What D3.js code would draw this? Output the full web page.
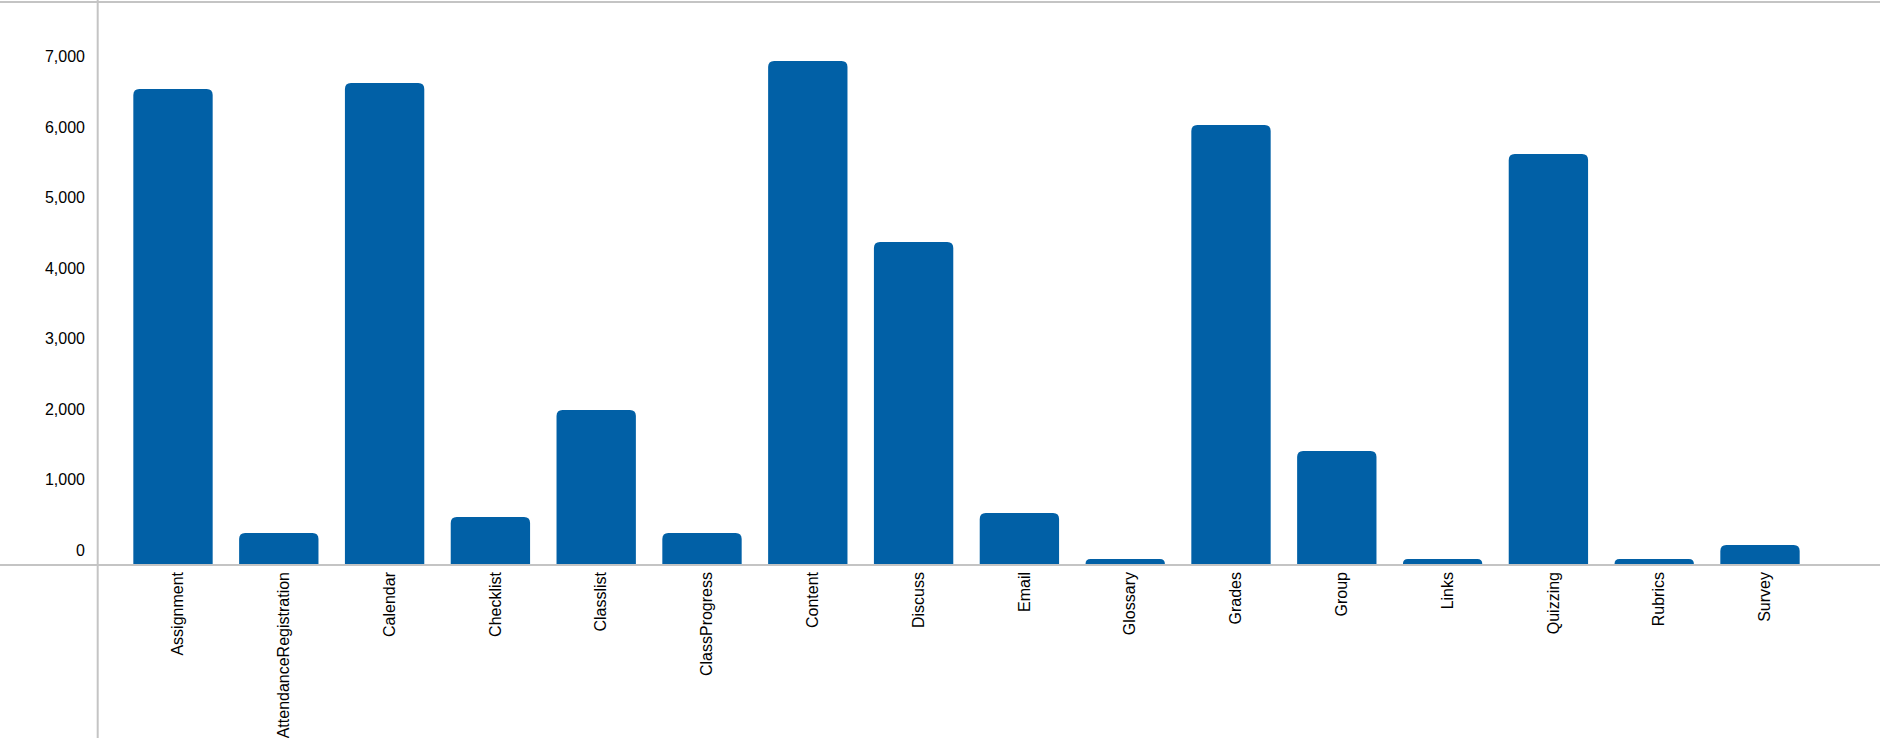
<!DOCTYPE html>
<html>
<head>
<meta charset="utf-8">
<script src="https://cdn.jsdelivr.net/npm/d3@7"></script>
<style>
  html, body { margin: 0; padding: 0; background: #fff; overflow: hidden; }
  svg { display: block; }
  text { font-family: "Liberation Sans", Arial, sans-serif; font-size: 16px; fill: #000; }
</style>
</head>
<body>
<script>
const categories = ["Assignment","AttendanceRegistration","Calendar","Checklist","Classlist","ClassProgress","Content","Discuss","Email","Glossary","Grades","Group","Links","Quizzing","Rubrics","Survey"];
const values = [6752, 454, 6837, 681, 2199, 454, 7149, 4582, 738, 85, 6241, 1617, 85, 5830, 85, 284];
const yTicks = [0, 1000, 2000, 3000, 4000, 5000, 6000, 7000];

const W = 1880, H = 738;
const axisX = 97.7, baseY = 565, topY = 2;
const barColor = "#0160a6", lineColor = "#c4c4c4";

const svg = d3.select("body").append("svg").attr("width", W).attr("height", H);

const x = d3.scaleBand().domain(categories).range([120.1, 1812.9]).paddingInner(0.25).paddingOuter(0.125);
const y = d3.scaleLinear().domain([0, 8000]).range([baseY, 1]);

function topRounded(x0, y0, w, h, r) {
  r = Math.min(r, h, w / 2);
  return `M${x0},${y0 + h}V${y0 + r}Q${x0},${y0} ${x0 + r},${y0}H${x0 + w - r}Q${x0 + w},${y0} ${x0 + w},${y0 + r}V${y0 + h}Z`;
}

// bars
svg.append("g").selectAll("path").data(categories).join("path")
  .attr("d", (c, i) => {
    const top = y(values[i]);
    return topRounded(x(c), top, x.bandwidth(), baseY - 1 - top, 6);
  })
  .attr("fill", barColor);

// frame lines
svg.append("line").attr("x1", 0).attr("x2", W).attr("y1", topY).attr("y2", topY)
  .attr("stroke", lineColor).attr("stroke-width", 2);
svg.append("line").attr("x1", 0).attr("x2", W).attr("y1", baseY).attr("y2", baseY)
  .attr("stroke", lineColor).attr("stroke-width", 2);
svg.append("line").attr("x1", axisX).attr("x2", axisX).attr("y1", 0).attr("y2", H)
  .attr("stroke", lineColor).attr("stroke-width", 2);

// y axis labels
const yAxis = d3.axisLeft(y).tickValues(yTicks).tickFormat(d3.format(",")).tickSize(0).tickPadding(0);
const gy = svg.append("g").attr("transform", "translate(85,0)").call(yAxis);
gy.select(".domain").remove();
gy.selectAll("text").attr("dy", "-0.62em").attr("x", 0)
  .style("font-family", '"Liberation Sans", Arial, sans-serif').style("font-size", "16px").attr("fill", "#000");

// x axis labels
const xAxis = d3.axisBottom(x).tickSize(0).tickPadding(0);
const gx = svg.append("g").attr("transform", `translate(0,${baseY})`).call(xAxis);
gx.select(".domain").remove();
gx.selectAll("text")
  .attr("transform", "rotate(-90)")
  .attr("x", -7).attr("y", 0).attr("dy", "0.64em")
  .style("text-anchor", "end")
  .style("font-family", '"Liberation Sans", Arial, sans-serif').style("font-size", "16px").attr("fill", "#000");
</script>
</body>
</html>
